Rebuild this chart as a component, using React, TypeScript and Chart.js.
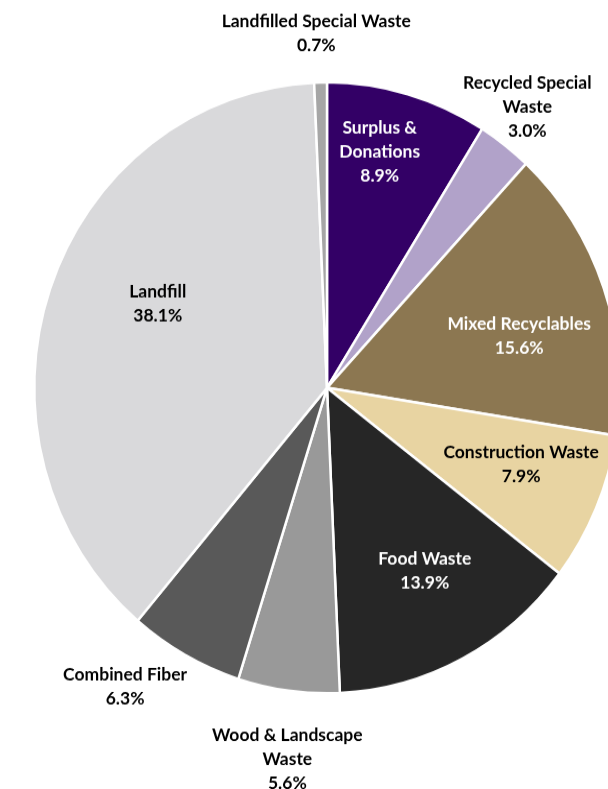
import React, { useEffect, useRef } from "react";
import { Chart, registerables } from "chart.js";

Chart.register(...registerables);

const categories: string[][] = [
  ["Surplus &", "Donations"],
  ["Recycled Special", "Waste"],
  ["Mixed Recyclables"],
  ["Construction Waste"],
  ["Food Waste"],
  ["Wood & Landscape", "Waste"],
  ["Combined Fiber"],
  ["Landfill"],
  ["Landfilled Special Waste"],
];
const shares: number[] = [8.9, 3.0, 15.6, 7.9, 13.9, 5.6, 6.3, 38.1, 0.7];

const sliceColors = ["#330066", "#b1a2c9", "#8c7751", "#e8d4a2", "#262626", "#999999", "#595959", "#d9d9db", "#a6a6a6"];
const textColors = ["#ffffff", "#000000", "#ffffff", "#000000", "#ffffff", "#000000", "#000000", "#000000", "#000000"];
const labelRadius = [0.793, 1.145, 0.678, 0.709, 0.686, 1.223, 1.197, 0.641, 1.16];
const labelAngleShift = [-2.9, -0.75, 4.6, -2.5, -1.6, -1.2, 6.2, 6.7, -0.55];

const FONT = "bold 17.5px Lato, 'Open Sans', sans-serif";
const LINE = 23;
const CANVAS_W = 660;
const CANVAS_H = 756;

const labelPlugin = {
  id: "sliceLabels",
  afterDatasetsDraw(chart: any) {
    const ctx = chart.ctx;
    const meta = chart.getDatasetMeta(0);
    ctx.save();
    ctx.font = FONT;
    ctx.textAlign = "center";
    ctx.textBaseline = "middle";
    meta.data.forEach((arc: any, i: number) => {
      const p = arc.getProps(["x", "y", "startAngle", "endAngle", "outerRadius"], true);
      const mid = (p.startAngle + p.endAngle) / 2 + (labelAngleShift[i] * Math.PI) / 180;
      const r = p.outerRadius * labelRadius[i];
      const cx = p.x + Math.cos(mid) * r;
      const cy = p.y + Math.sin(mid) * r;
      const lines = [...categories[i], shares[i].toFixed(1) + "%"];
      const top = cy - ((lines.length - 1) * LINE) / 2;
      ctx.fillStyle = textColors[i];
      lines.forEach((t, k) => ctx.fillText(t, cx, top + k * LINE));
    });
    ctx.restore();
  },
};

export default function App() {
  const ref = useRef<HTMLCanvasElement>(null);
  useEffect(() => {
    if (!ref.current) return;
    const chart = new Chart(ref.current, {
      type: "pie",
      data: {
        labels: categories.map((c) => c.join(" ")),
        datasets: [
          {
            data: shares,
            backgroundColor: sliceColors,
            borderColor: "#ffffff",
            borderWidth: 2.5,
          },
        ],
      },
      options: {
        animation: false,
        responsive: false,
        devicePixelRatio: 1,
        layout: { padding: { left: 33, right: 39, top: 77.6, bottom: 90.4 } },
        plugins: { legend: { display: false }, tooltip: { enabled: false } },
      },
      plugins: [labelPlugin],
    });
    return () => chart.destroy();
  }, []);
  return (
    <div style={{ position: "fixed", left: 0, top: 0, width: 608, height: 789, overflow: "hidden", background: "#fff" }}>
      <canvas
        ref={ref}
        width={CANVAS_W}
        height={CANVAS_H}
        style={{ display: "block", width: CANVAS_W + "px", height: "789px" }}
      />
    </div>
  );
}
